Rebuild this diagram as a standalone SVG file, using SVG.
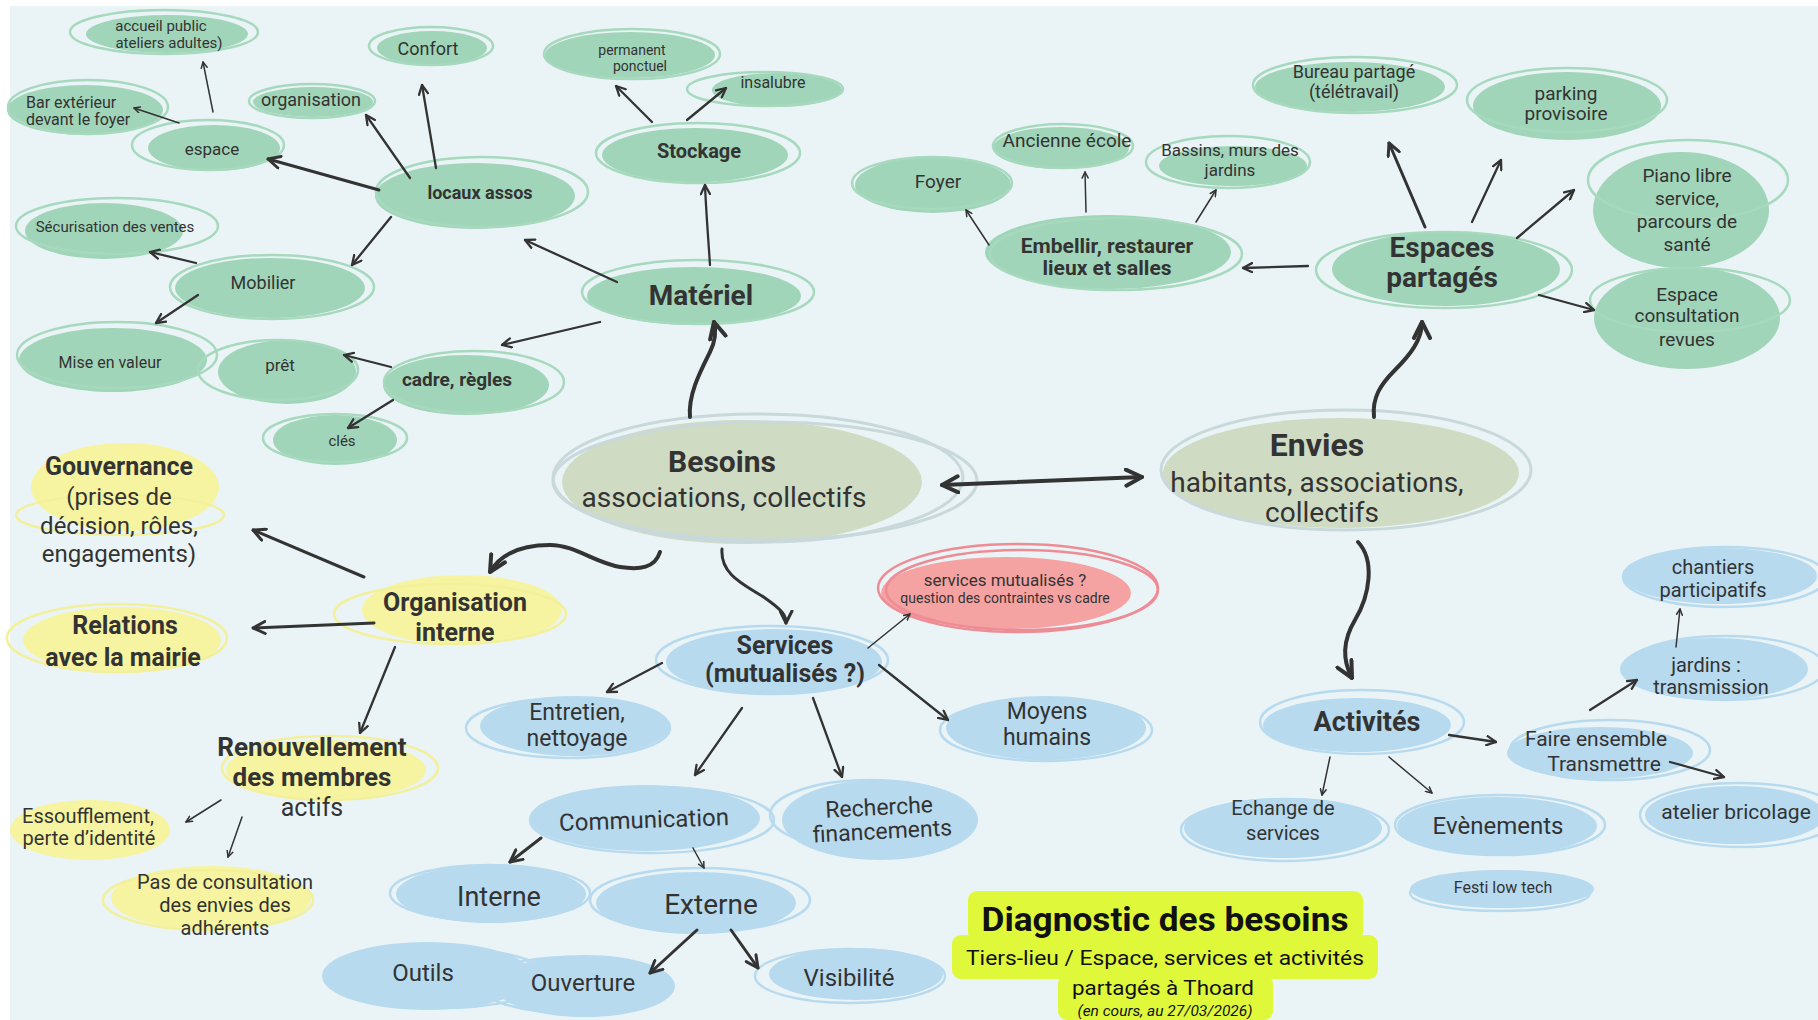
<svg xmlns="http://www.w3.org/2000/svg" width="1818" height="1020" viewBox="0 0 1818 1020">
<style>
text{font-family:Roboto,"Liberation Sans",sans-serif;fill:#333;text-anchor:middle}
.bd{font-weight:bold}
.g{fill:#A0D5B9}.gr{fill:none;stroke:#A6D9BE;stroke-width:2.5}
.y{fill:#F6F4A0}.yr{fill:none;stroke:#F3F09C;stroke-width:2.5}
.s{fill:#D0DBC3}.sr{fill:none;stroke:#C8D8DB;stroke-width:3}
.b{fill:#B7DAEF}.br{fill:none;stroke:#B7DAEF;stroke-width:2.5}
.r{fill:#F5A3A2}.rr{fill:none;stroke:#EE8C95;stroke-width:2.5}
#connectors path,#connectors line{fill:none;stroke:#333;stroke-linecap:round;marker-end:url(#ah)}
.t1{stroke-width:1.5}.t2{stroke-width:2.3}.t3{stroke-width:3}.t4{stroke-width:4}
</style>
<defs>
<marker id="ah" viewBox="0 0 10 10" refX="9" refY="5" markerWidth="5" markerHeight="5" orient="auto-start-reverse"><path d="M1,1 L9,5 L1,9" fill="none" stroke="#333" stroke-width="2" stroke-linecap="round" stroke-linejoin="round"/></marker>
</defs>
<rect width="1818" height="1020" fill="#FFFFFF"/>
<rect x="10" y="6" width="1808" height="1014" fill="#EAF4F6"/>

<!-- green nodes -->
<g id="accueil"><ellipse class="g" cx="167" cy="34" rx="81" ry="19"/><ellipse class="gr" cx="164" cy="32" rx="94" ry="22"/><text font-size="15" x="161" y="31">accueil public</text><text font-size="15" x="169" y="48">ateliers adultes)</text></g>
<g id="confort"><ellipse class="g" cx="432" cy="48" rx="55" ry="17"/><ellipse class="gr" cx="431" cy="46" rx="62" ry="19"/><text font-size="18" x="428" y="55">Confort</text></g>
<g id="organisation"><ellipse class="g" cx="313" cy="102" rx="60" ry="15"/><ellipse class="gr" cx="312" cy="101" rx="63" ry="17"/><text font-size="18" x="311" y="106">organisation</text></g>
<g id="bar"><ellipse class="g" cx="85" cy="110" rx="78" ry="25"/><ellipse class="gr" cx="88" cy="107" rx="80" ry="27"/><text font-size="16" x="26" y="108" style="text-anchor:start">Bar extérieur</text><text font-size="16" x="26" y="125" style="text-anchor:start">devant le foyer</text></g>
<g id="espace"><ellipse class="g" cx="214" cy="148" rx="66" ry="23"/><ellipse class="gr" cx="208" cy="145" rx="76" ry="25"/><text font-size="17" x="212" y="155">espace</text></g>
<g id="locaux"><ellipse class="g" cx="475" cy="196" rx="100" ry="33"/><ellipse class="gr" cx="482" cy="192" rx="106" ry="35"/><text class="bd" font-size="18" x="480" y="199">locaux assos</text></g>
<g id="securisation"><ellipse class="g" cx="104" cy="231" rx="79" ry="28"/><ellipse class="gr" cx="117" cy="226" rx="101" ry="28"/><text font-size="15" x="115" y="232">Sécurisation des ventes</text></g>
<g id="mobilier"><ellipse class="g" cx="270" cy="288" rx="95" ry="30"/><ellipse class="gr" cx="272" cy="287" rx="102" ry="32"/><text font-size="18" x="263" y="289">Mobilier</text></g>
<g id="mise"><ellipse class="g" cx="113" cy="360" rx="94" ry="32"/><ellipse class="gr" cx="117" cy="355" rx="100" ry="33"/><text font-size="16" x="110" y="368">Mise en valeur</text></g>
<g id="pret"><ellipse class="g" cx="287" cy="372" rx="69" ry="32"/><ellipse class="gr" cx="278" cy="370" rx="80" ry="30"/><text font-size="17" x="280" y="371">prêt</text></g>
<g id="cadre"><ellipse class="g" cx="466" cy="385" rx="83" ry="30"/><ellipse class="gr" cx="474" cy="382" rx="90" ry="31"/><text class="bd" font-size="19" x="457" y="386">cadre, règles</text></g>
<g id="cles"><ellipse class="g" cx="335" cy="440" rx="62" ry="25"/><ellipse class="gr" cx="335" cy="438" rx="72" ry="24"/><text font-size="15" x="342" y="446">clés</text></g>
<g id="permanent"><ellipse class="g" cx="630" cy="55" rx="85" ry="23"/><ellipse class="gr" cx="632" cy="54" rx="88" ry="25"/><text font-size="14" x="632" y="55">permanent</text><text font-size="14" x="640" y="71">ponctuel</text></g>
<g id="insalubre"><ellipse class="g" cx="777" cy="90" rx="65" ry="17"/><ellipse class="gr" cx="765" cy="89" rx="78" ry="17"/><text font-size="16" x="773" y="88">insalubre</text></g>
<g id="stockage"><ellipse class="g" cx="695" cy="155" rx="93" ry="27"/><ellipse class="gr" cx="698" cy="153" rx="102" ry="30"/><text class="bd" font-size="20" x="699" y="158">Stockage</text></g>
<g id="materiel"><ellipse class="g" cx="694" cy="296" rx="107" ry="29"/><ellipse class="gr" cx="698" cy="292" rx="116" ry="32"/><text class="bd" font-size="28" x="701" y="305">Matériel</text></g>
<g id="foyer"><ellipse class="g" cx="933" cy="185" rx="78" ry="28"/><ellipse class="gr" cx="932" cy="183" rx="80" ry="26"/><text font-size="19" x="938" y="188">Foyer</text></g>
<g id="ecole"><ellipse class="g" cx="1061" cy="148" rx="68" ry="21"/><ellipse class="gr" cx="1063" cy="146" rx="70" ry="22"/><text font-size="19" x="1067" y="147">Ancienne école</text></g>
<g id="bassins"><ellipse class="g" cx="1233" cy="166" rx="74" ry="20"/><ellipse class="gr" cx="1228" cy="162" rx="82" ry="26"/><text font-size="17" x="1230" y="156">Bassins, murs des</text><text font-size="17" x="1230" y="176">jardins</text></g>
<g id="embellir"><ellipse class="g" cx="1108" cy="252" rx="123" ry="37"/><ellipse class="gr" cx="1116" cy="254" rx="126" ry="36"/><text class="bd" font-size="21" x="1107" y="253">Embellir, restaurer</text><text class="bd" font-size="21" x="1107" y="275">lieux et salles</text></g>
<g id="bureau"><ellipse class="g" cx="1350" cy="87" rx="95" ry="25"/><ellipse class="gr" cx="1355" cy="85" rx="102" ry="28"/><text font-size="18" x="1354" y="78">Bureau partagé</text><text font-size="18" x="1354" y="98">(télétravail)</text></g>
<g id="parking"><ellipse class="g" cx="1567" cy="106" rx="94" ry="34"/><ellipse class="gr" cx="1567" cy="100" rx="100" ry="32"/><text font-size="19" x="1566" y="100">parking</text><text font-size="19" x="1566" y="120">provisoire</text></g>
<g id="piano"><ellipse class="g" cx="1681" cy="210" rx="88" ry="58"/><ellipse class="gr" cx="1688" cy="180" rx="100" ry="40"/><text font-size="19" x="1687" y="182">Piano libre</text><text font-size="19" x="1687" y="205">service,</text><text font-size="19" x="1687" y="228">parcours de</text><text font-size="19" x="1687" y="251">santé</text></g>
<g id="consultation"><ellipse class="g" cx="1687" cy="318" rx="93" ry="51"/><ellipse class="gr" cx="1690" cy="300" rx="100" ry="32"/><text font-size="19" x="1687" y="301">Espace</text><text font-size="19" x="1687" y="322">consultation</text><text font-size="19" x="1687" y="346">revues</text></g>
<g id="espaces-partages"><ellipse class="g" cx="1446" cy="269" rx="114" ry="37"/><ellipse class="gr" cx="1444" cy="270" rx="128" ry="38"/><text class="bd" font-size="28" x="1442" y="257">Espaces</text><text class="bd" font-size="28" x="1442" y="287">partagés</text></g>

<!-- yellow nodes -->
<g id="gouvernance"><ellipse class="y" cx="125" cy="487" rx="94" ry="44"/><ellipse class="yr" cx="120" cy="515" rx="104" ry="20"/><text class="bd" font-size="25" x="119" y="475">Gouvernance</text><text font-size="24" x="119" y="505">(prises de</text><text font-size="24" x="119" y="534">décision, rôles,</text><text font-size="24" x="119" y="562">engagements)</text></g>
<g id="relations"><ellipse class="y" cx="122" cy="640" rx="99" ry="33"/><ellipse class="yr" cx="117" cy="638" rx="110" ry="34"/><text class="bd" font-size="25" x="125" y="634">Relations</text><text class="bd" font-size="25" x="123" y="666">avec la mairie</text></g>
<g id="organisation-interne"><ellipse class="y" cx="462" cy="610" rx="100" ry="35"/><ellipse class="yr" cx="450" cy="614" rx="116" ry="30"/><text class="bd" font-size="25" x="455" y="611">Organisation</text><text class="bd" font-size="25" x="455" y="641">interne</text></g>
<g id="renouvellement"><ellipse class="y" cx="326" cy="770" rx="100" ry="30"/><ellipse class="yr" cx="330" cy="768" rx="108" ry="32"/><text class="bd" font-size="26" x="312" y="756">Renouvellement</text><text class="bd" font-size="26" x="312" y="786">des membres</text><text font-size="25" x="312" y="816">actifs</text></g>
<g id="essoufflement"><ellipse class="y" cx="90" cy="830" rx="80" ry="30"/><text font-size="20" x="88" y="823">Essoufflement,</text><text font-size="20" x="89" y="845">perte d’identité</text></g>
<g id="pas-consultation"><ellipse class="y" cx="211" cy="898" rx="100" ry="32"/><ellipse class="yr" cx="208" cy="900" rx="105" ry="30"/><text font-size="20" x="225" y="889">Pas de consultation</text><text font-size="20" x="225" y="912">des envies des</text><text font-size="20" x="225" y="935">adhérents</text></g>

<!-- central nodes -->
<g id="besoins"><ellipse class="s" cx="742" cy="482" rx="180" ry="62"/><ellipse class="sr" cx="758" cy="478" rx="205" ry="64"/><ellipse class="sr" cx="765" cy="481" rx="212" ry="59"/><text class="bd" font-size="30" x="722" y="472">Besoins</text><text font-size="28" x="724" y="507">associations, collectifs</text></g>
<g id="envies"><ellipse class="s" cx="1341" cy="473" rx="178" ry="55"/><ellipse class="sr" cx="1346" cy="470" rx="185" ry="60"/><text class="bd" font-size="32" x="1317" y="456">Envies</text><text font-size="28" x="1317" y="492">habitants, associations,</text><text font-size="28" x="1322" y="522">collectifs</text></g>

<!-- blue nodes -->
<g id="services"><ellipse class="b" cx="774" cy="662" rx="108" ry="33"/><ellipse class="br" cx="772" cy="660" rx="116" ry="34"/><text class="bd" font-size="25" x="785" y="654">Services</text><text class="bd" font-size="25" x="785" y="682">(mutualisés ?)</text></g>
<g id="entretien"><ellipse class="b" cx="575" cy="726" rx="95" ry="30"/><ellipse class="br" cx="568" cy="728" rx="102" ry="30"/><text font-size="23" x="577" y="720">Entretien,</text><text font-size="23" x="577" y="746">nettoyage</text></g>
<g id="moyens"><ellipse class="b" cx="1046" cy="728" rx="100" ry="32"/><ellipse class="br" cx="1046" cy="730" rx="106" ry="31"/><text font-size="23" x="1047" y="719">Moyens</text><text font-size="23" x="1047" y="745">humains</text></g>
<g id="communication"><ellipse class="b" cx="645" cy="818" rx="115" ry="33"/><ellipse class="br" cx="652" cy="820" rx="122" ry="33"/><text font-size="24" x="644" y="828" transform="rotate(-2 644 820)">Communication</text></g>
<g id="recherche"><ellipse class="b" cx="880" cy="820" rx="98" ry="40"/><ellipse class="br" cx="870" cy="815" rx="100" ry="35"/><text font-size="23" x="880" y="815" transform="rotate(-3 880 825)">Recherche</text><text font-size="23" x="882" y="839" transform="rotate(-3 880 825)">financements</text></g>
<g id="interne"><ellipse class="b" cx="491" cy="894" rx="95" ry="29"/><ellipse class="br" cx="490" cy="893" rx="100" ry="28"/><text font-size="27" x="499" y="906">Interne</text></g>
<g id="externe"><ellipse class="b" cx="696" cy="903" rx="100" ry="31"/><ellipse class="br" cx="700" cy="900" rx="110" ry="32"/><text font-size="28" x="711" y="914">Externe</text></g>
<g id="outils"><ellipse class="b" cx="427" cy="976" rx="105" ry="34"/><ellipse class="br" cx="440" cy="978" rx="110" ry="30"/><text font-size="24" x="423" y="981">Outils</text></g>
<g id="ouverture"><ellipse class="b" cx="585" cy="986" rx="90" ry="31"/><ellipse class="br" cx="570" cy="985" rx="90" ry="28"/><text font-size="24" x="583" y="991">Ouverture</text></g>
<g id="visibilite"><ellipse class="b" cx="856" cy="974" rx="87" ry="26"/><ellipse class="br" cx="850" cy="976" rx="95" ry="27"/><text font-size="24" x="849" y="986">Visibilité</text></g>
<g id="activites"><ellipse class="b" cx="1357" cy="725" rx="94" ry="27"/><ellipse class="br" cx="1362" cy="722" rx="102" ry="32"/><text class="bd" font-size="27" x="1367" y="731">Activités</text></g>
<g id="echange"><ellipse class="b" cx="1283" cy="828" rx="99" ry="30"/><ellipse class="br" cx="1285" cy="830" rx="104" ry="31"/><text font-size="20" x="1283" y="815">Echange de</text><text font-size="20" x="1283" y="840">services</text></g>
<g id="evenements"><ellipse class="b" cx="1497" cy="826" rx="100" ry="29"/><ellipse class="br" cx="1500" cy="825" rx="105" ry="30"/><text font-size="24" x="1498" y="834">Evènements</text></g>
<g id="festi"><ellipse class="b" cx="1502" cy="889" rx="92" ry="19"/><ellipse class="br" cx="1500" cy="893" rx="90" ry="18"/><text font-size="16" x="1503" y="893">Festi low tech</text></g>
<g id="faire"><ellipse class="b" cx="1600" cy="753" rx="93" ry="26"/><ellipse class="br" cx="1610" cy="750" rx="100" ry="30"/><text font-size="21" x="1596" y="746">Faire ensemble</text><text font-size="21" x="1604" y="771">Transmettre</text></g>
<g id="jardins"><ellipse class="b" cx="1714" cy="669" rx="94" ry="31"/><ellipse class="br" cx="1725" cy="668" rx="100" ry="32"/><text font-size="20" x="1706" y="672">jardins :</text><text font-size="20" x="1711" y="694">transmission</text></g>
<g id="chantiers"><ellipse class="b" cx="1720" cy="576" rx="97" ry="28"/><ellipse class="br" cx="1725" cy="577" rx="102" ry="30"/><text font-size="20" x="1713" y="574">chantiers</text><text font-size="20" x="1713" y="597">participatifs</text></g>
<g id="atelier"><ellipse class="b" cx="1735" cy="815" rx="90" ry="29"/><ellipse class="br" cx="1740" cy="815" rx="100" ry="32"/><text font-size="21" x="1736" y="819">atelier bricolage</text></g>

<!-- red node -->
<g id="question"><ellipse class="r" cx="1006" cy="593" rx="125" ry="36"/><ellipse class="rr" cx="1018" cy="588" rx="140" ry="44"/><ellipse class="rr" cx="1022" cy="590" rx="136" ry="40"/><text font-size="17" x="1005" y="586">services mutualisés ?</text><text font-size="14" x="1005" y="603">question des contraintes vs cadre</text></g>

<!-- connectors -->
<g id="connectors">
<line class="t1" x1="213" y1="112" x2="203" y2="62"/>
<line class="t1" x1="179" y1="123" x2="134" y2="108"/>
<line class="t3" x1="379" y1="190" x2="268" y2="159"/>
<line class="t2" x1="410" y1="178" x2="366" y2="115"/>
<line class="t2" x1="436" y1="168" x2="422" y2="85"/>
<line class="t2" x1="391" y1="217" x2="352" y2="265"/>
<line class="t2" x1="196" y1="263" x2="150" y2="252"/>
<line class="t2" x1="198" y1="295" x2="156" y2="323"/>
<line class="t2" x1="617" y1="282" x2="525" y2="240"/>
<line class="t2" x1="600" y1="322" x2="502" y2="345"/>
<line class="t2" x1="391" y1="367" x2="344" y2="355"/>
<line class="t2" x1="393" y1="400" x2="348" y2="428"/>
<line class="t2" x1="652" y1="122" x2="616" y2="86"/>
<line class="t2" x1="687" y1="120" x2="726" y2="88"/>
<path class="t2" d="M710,265 C708,235 706,210 705,185"/>
<path class="t4" d="M690,417 C688,395 700,372 710,352 C716,340 716,330 714,322"/>
<line class="t1" x1="989" y1="245" x2="966" y2="210"/>
<line class="t1" x1="1086" y1="212" x2="1085" y2="172"/>
<line class="t1" x1="1196" y1="222" x2="1216" y2="190"/>
<line class="t2" x1="1308" y1="266" x2="1243" y2="268"/>
<line class="t3" x1="1425" y1="227" x2="1389" y2="143"/>
<line class="t2" x1="1472" y1="222" x2="1501" y2="160"/>
<line class="t2" x1="1517" y1="238" x2="1574" y2="190"/>
<line class="t2" x1="1539" y1="295" x2="1594" y2="310"/>
<path class="t4" d="M1374,417 C1372,398 1380,385 1395,370 C1410,355 1422,340 1422,322"/>
<path class="t4" d="M942,485 L1142,477" marker-start="url(#ah)"/>
<path class="t4" d="M660,552 C655,568 640,570 620,567 C595,563 575,545 550,545 C520,545 500,555 490,572"/>
<path class="t3" d="M722,549 C720,575 745,585 765,598 C782,610 786,615 786,623"/>
<path class="t4" d="M1358,542 C1375,560 1370,595 1355,620 C1340,645 1345,665 1352,678"/>
<line class="t3" x1="364" y1="577" x2="253" y2="530"/>
<line class="t3" x1="374" y1="623" x2="253" y2="628"/>
<line class="t2" x1="395" y1="647" x2="360" y2="733"/>
<line class="t1" x1="221" y1="800" x2="186" y2="822"/>
<line class="t1" x1="242" y1="817" x2="228" y2="857"/>
<line class="t1" x1="868" y1="648" x2="910" y2="614"/>
<line class="t2" x1="662" y1="663" x2="607" y2="692"/>
<line class="t2" x1="879" y1="665" x2="948" y2="720"/>
<line class="t2" x1="742" y1="708" x2="695" y2="775"/>
<line class="t2" x1="813" y1="698" x2="842" y2="777"/>
<line class="t3" x1="541" y1="838" x2="510" y2="862"/>
<line class="t1" x1="693" y1="848" x2="704" y2="868"/>
<line class="t3" x1="697" y1="930" x2="650" y2="973"/>
<line class="t3" x1="731" y1="930" x2="758" y2="968"/>
<line class="t1" x1="1330" y1="757" x2="1322" y2="795"/>
<line class="t1" x1="1389" y1="757" x2="1432" y2="793"/>
<line class="t2" x1="1449" y1="735" x2="1496" y2="742"/>
<line class="t2" x1="1590" y1="710" x2="1637" y2="680"/>
<line class="t1" x1="1676" y1="647" x2="1680" y2="609"/>
<line class="t2" x1="1670" y1="762" x2="1724" y2="777"/>
</g>

<!-- title -->
<g id="title">
<rect x="968" y="891" width="395" height="50" rx="9" fill="#DFF83A"/>
<rect x="952" y="935" width="426" height="44" rx="9" fill="#DFF83A"/>
<rect x="1058" y="975" width="215" height="45" rx="9" fill="#DFF83A"/>
<text class="bd" font-size="34" x="1165" y="931" textLength="367" lengthAdjust="spacingAndGlyphs" style="fill:#111">Diagnostic des besoins</text>
<text font-size="20" x="1165" y="965" textLength="398" lengthAdjust="spacingAndGlyphs" style="fill:#111">Tiers-lieu / Espace, services et activités</text>
<text font-size="20" x="1163" y="995" textLength="182" lengthAdjust="spacingAndGlyphs" style="fill:#111">partagés à Thoard</text>
<text font-size="15" font-style="italic" x="1165" y="1016" textLength="175" lengthAdjust="spacingAndGlyphs" style="fill:#111">(en cours, au 27/03/2026)</text>
</g>
</svg>
